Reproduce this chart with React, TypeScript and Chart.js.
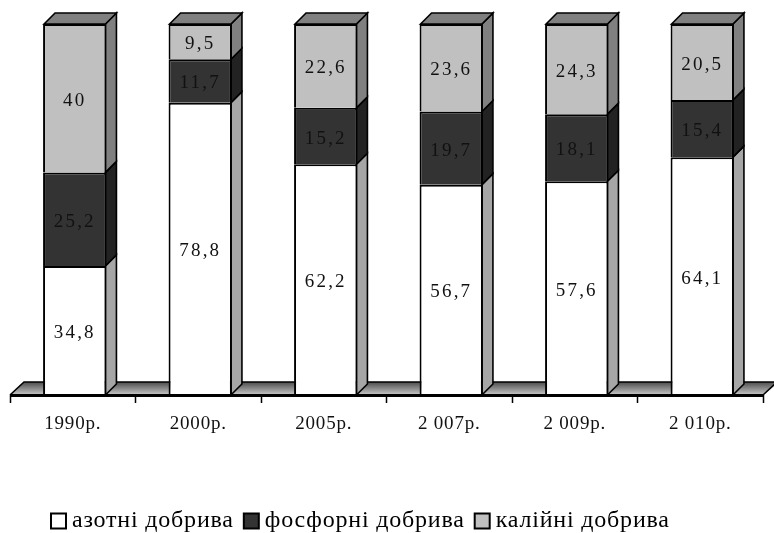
import React, { useEffect, useRef } from "react";
import { Chart, registerables } from "chart.js";

Chart.register(...registerables);

const categories = ["1990р.", "2000р.", "2005р.", "2 007р.", "2 009р.", "2 010р."];
const nitrogen = [34.8, 78.8, 62.2, 56.7, 57.6, 64.1];
const phosphorus = [25.2, 11.7, 15.2, 19.7, 18.1, 15.4];
const potassium = [40, 9.5, 22.6, 23.6, 24.3, 20.5];
const valueLabels = [
  ["34,8", "78,8", "62,2", "56,7", "57,6", "64,1"],
  ["25,2", "11,7", "15,2", "19,7", "18,1", "15,4"],
  ["40", "9,5", "22,6", "23,6", "24,3", "20,5"],
];
const seriesNames = ["азотні добрива", "фосфорні добрива", "калійні добрива"];
const fillColors = ["#ffffff", "#333333", "#c0c0c0"];
const sideColors = ["#a6a6a6", "#222222", "#808080"];
const topColor = "#808080";

const SERIF = '"Liberation Serif", "Times New Roman", serif';

const poly = (ctx: CanvasRenderingContext2D, pts: number[][], fill: any, stroke = true) => {
  ctx.beginPath();
  pts.forEach(([x, y], i) => (i ? ctx.lineTo(x, y) : ctx.moveTo(x, y)));
  ctx.closePath();
  ctx.fillStyle = fill;
  ctx.fill();
  if (stroke) {
    ctx.strokeStyle = "#000";
    ctx.lineWidth = 1.6;
    ctx.stroke();
  }
};

const chart3d = {
  id: "chart3d",
  beforeUpdate(chart: any) {
    chart.ctx.letterSpacing = "0.8px";
  },
  afterLayout(chart: any) {
    const lg = chart.legend;
    if (lg) {
      lg.left = 41;
      lg.right = 774;
      lg.top = 493;
    }
  },
  beforeDraw(chart: any) {
    chart.ctx.letterSpacing = "0.8px";
  },
  beforeDatasetsDraw(chart: any) {
    const { ctx, chartArea: a } = chart;
    const y0 = a.bottom;
    const L = a.left - 2;
    const R = a.right - 2;
    ctx.save();
    // floor
    const g = ctx.createLinearGradient(0, y0 - 13, 0, y0);
    g.addColorStop(0, "#4d4d4d");
    g.addColorStop(1, "#c8c8c8");
    poly(ctx, [[L, y0], [L + 14, y0 - 13], [R + 14, y0 - 13], [R, y0]], g, false);
    ctx.strokeStyle = "#000";
    ctx.lineWidth = 1.6;
    ctx.beginPath();
    ctx.moveTo(L, y0);
    ctx.lineTo(L + 14, y0 - 13);
    ctx.lineTo(R + 14, y0 - 13);
    ctx.lineTo(R, y0);
    ctx.stroke();
    // bar sides and tops
    const d = 11;
    chart.data.datasets.forEach((_: any, ds: number) => {
      chart.getDatasetMeta(ds).data.forEach((bar: any) => {
        const r = bar.x + bar.width / 2 - 1;
        const t = bar.y;
        const b = bar.base;
        poly(ctx, [[r, b], [r + d, b - d], [r + d, t - d], [r, t]], sideColors[ds]);
        if (ds === 2) {
          const l = bar.x - bar.width / 2 + 1;
          poly(ctx, [[l, t], [l + d, t - d], [r + d, t - d], [r, t]], topColor);
        }
      });
    });
    ctx.restore();
  },
  afterDatasetsDraw(chart: any) {
    const { ctx, chartArea: a } = chart;
    const y0 = a.bottom;
    const L = a.left - 2;
    const R = a.right - 2;
    ctx.save();
    // axis line and ticks
    ctx.strokeStyle = "#000";
    ctx.lineWidth = 3;
    ctx.beginPath();
    ctx.moveTo(L, y0 + 0.5);
    ctx.lineTo(R, y0 + 0.5);
    ctx.stroke();
    ctx.lineWidth = 1.5;
    ctx.beginPath();
    for (let i = 0; i <= categories.length; i++) {
      const x = Math.floor(L + ((R - L) * i) / categories.length) + 0.5;
      ctx.moveTo(x, y0);
      ctx.lineTo(x, y0 + 8);
    }
    ctx.stroke();
    // value labels
    ctx.font = `19px ${SERIF}`;
    ctx.letterSpacing = "2.2px";
    ctx.fillStyle = "#111111";
    ctx.textAlign = "center";
    ctx.textBaseline = "middle";
    chart.data.datasets.forEach((_: any, ds: number) => {
      chart.getDatasetMeta(ds).data.forEach((bar: any, i: number) => {
        ctx.fillText(valueLabels[ds][i], bar.x, (bar.y + bar.base) / 2 + 2.5);
      });
    });
    ctx.restore();
  },
};

export default function App() {
  const ref = useRef<HTMLCanvasElement>(null);
  useEffect(() => {
    const ds = [nitrogen, phosphorus, potassium].map((data, i) => ({
      label: seriesNames[i],
      data,
      backgroundColor: fillColors[i],
      borderColor: "#000000",
      borderWidth: 2,
      borderSkipped: "bottom",
      categoryPercentage: 1,
      barPercentage: 0.505,
    }));
    const chart = new Chart(ref.current!, {
      type: "bar",
      data: { labels: categories, datasets: ds },
      plugins: [chart3d],
      options: {
        responsive: false,
        animation: false,
        devicePixelRatio: 1,
        layout: { padding: { left: 12, right: 9, top: 24, bottom: 0 } },
        plugins: {
          tooltip: { enabled: false },
          legend: {
            position: "bottom",
            align: "start",
            labels: {
              color: "#000000",
              font: { family: SERIF, size: 24 },
              usePointStyle: true,
              boxWidth: 3,
              boxHeight: 15,
              padding: 16,
              generateLabels: (c: any) =>
                c.data.datasets.map((d: any, i: number) => ({
                  text: d.label,
                  fillStyle: fillColors[i],
                  strokeStyle: "#000000",
                  lineWidth: 2,
                  pointStyle: "rect",
                  datasetIndex: i,
                })),
            },
          },
        },
        scales: {
          x: {
            stacked: true,
            grid: { display: false, drawTicks: false },
            border: { display: false },
            afterFit: (s: any) => {
              s.height = 88;
            },
            ticks: {
              color: "#111111",
              font: { family: SERIF, size: 19 },
              padding: 18,
              labelOffset: -2,
              maxRotation: 0,
              autoSkip: false,
            },
          },
          y: { stacked: true, display: false, min: 0, max: 100 },
        },
      },
    } as any);
    return () => chart.destroy();
  }, []);
  return (
    <div style={{ position: "fixed", left: 0, top: 0, width: 774, height: 533, background: "#fff" }}>
      <canvas ref={ref} width={774} height={533} style={{ display: "block" }} />
    </div>
  );
}
